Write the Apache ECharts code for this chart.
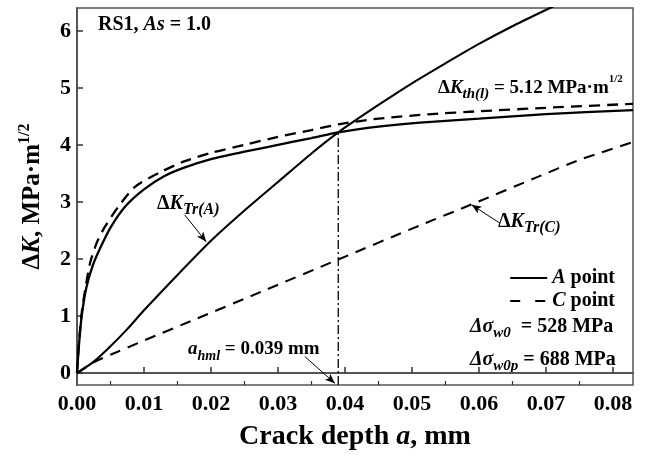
<!DOCTYPE html>
<html>
<head>
<meta charset="utf-8">
<script src="https://cdn.jsdelivr.net/npm/echarts@6/dist/echarts.min.js"></script>
<style>
  html, body { margin: 0; padding: 0; background: #fff; }
  #main { width: 646px; height: 456px; }
</style>
</head>
<body>
<div id="main"></div>
<script>
// crack depth a (mm) and ΔK (MPa·m^1/2)
const aThA = [0, 0.0003, 0.0007, 0.0014, 0.0024, 0.0035, 0.005, 0.0072, 0.01, 0.013, 0.016, 0.02, 0.025, 0.03, 0.035, 0.039, 0.045, 0.0512, 0.06, 0.07, 0.083];
const kThA = [0, 0.5, 1.0, 1.5, 1.9, 2.2, 2.55, 2.92, 3.22, 3.45, 3.6, 3.75, 3.88, 4.0, 4.12, 4.22, 4.32, 4.39, 4.46, 4.54, 4.61];

const aThC = [0, 0.0003, 0.0007, 0.0012, 0.002, 0.003, 0.0042, 0.0062, 0.0087, 0.0126, 0.016, 0.02, 0.025, 0.03, 0.035, 0.039, 0.045, 0.053, 0.06, 0.07, 0.083];
const kThC = [0, 0.55, 1.05, 1.45, 1.95, 2.3, 2.57, 2.92, 3.27, 3.53, 3.71, 3.86, 4.0, 4.14, 4.26, 4.36, 4.46, 4.54, 4.59, 4.65, 4.72];

const aTrA = [0, 0.0025, 0.005, 0.0075, 0.01, 0.015, 0.02, 0.025, 0.03, 0.035, 0.039, 0.045, 0.05, 0.055, 0.06, 0.065, 0.0706, 0.075, 0.083];
const kTrA = [0, 0.2, 0.47, 0.77, 1.1, 1.72, 2.32, 2.85, 3.35, 3.85, 4.22, 4.7, 5.08, 5.43, 5.77, 6.08, 6.4, 6.65, 7.08];

const aTrC = [0, 0.0027, 0.006, 0.01, 0.0176, 0.0278, 0.039, 0.0512, 0.059, 0.0686, 0.0751, 0.083];
const kTrC = [0, 0.2, 0.37, 0.57, 0.94, 1.44, 1.99, 2.59, 2.96, 3.43, 3.74, 4.05];

const aHml = [0.039, 0.039];
const kHml = [-0.21, 4.22];

const xTicks = [0, 0.01, 0.02, 0.03, 0.04, 0.05, 0.06, 0.07, 0.08];
const xMinor = [0.005, 0.015, 0.025, 0.035, 0.045, 0.055, 0.065, 0.075];
const yTicks = [0, 1, 2, 3, 4, 5, 6];

// arrows: [from, to] in data units
const arrows = [
  [[0.0161, 2.77], [0.0193, 2.30]],
  [[0.0631, 2.63], [0.0589, 2.95]],
  [[0.0340, 0.29], [0.0385, -0.18]]
];

const FONT = '"Liberation Serif", "Times New Roman", serif';

function zip(xs, ys) { return xs.map((x, i) => [x, ys[i]]); }

function richSet(size, subSize, supSize) {
  return {
    m: { fontFamily: FONT, fontWeight: 'bold', fontSize: size, lineHeight: 28, color: '#000' },
    mi: { fontFamily: FONT, fontWeight: 'bold', fontStyle: 'italic', fontSize: size, lineHeight: 28, color: '#000' },
    sub: { fontFamily: FONT, fontWeight: 'bold', fontStyle: 'italic', fontSize: subSize, verticalAlign: 'bottom', color: '#000' },
    sup: { fontFamily: FONT, fontWeight: 'bold', fontSize: supSize, verticalAlign: 'top', color: '#000' }
  };
}

function label(left, top, text, r) {
  return {
    type: 'text', left: left, top: top, silent: true,
    style: { text: text, rich: r, fill: '#000' }
  };
}

let myChart = echarts.init(document.getElementById('main'));

myChart.setOption({
  animation: false,
  backgroundColor: '#fff',
  grid: { left: 77, right: 13, top: 8, bottom: 71, show: true, borderColor: '#555', borderWidth: 1.5 },
  legend: {
    data: [
      { name: 'A point' },
      { name: 'C point', lineStyle: { type: [10, 15] } }
    ],
    orient: 'vertical', right: 26, top: 263, itemGap: 3,
    itemWidth: 37, itemHeight: 14,
    itemStyle: { opacity: 0 },
    formatter: function (n) { return n === 'A point' ? '{i|A} point' : '{i|C} point'; },
    textStyle: {
      fontFamily: FONT, fontWeight: 'bold', fontSize: 20, color: '#000',
      rich: { i: { fontFamily: FONT, fontWeight: 'bold', fontStyle: 'italic', fontSize: 20, color: '#000' } }
    }
  },
  xAxis: [{
    type: 'value', min: 0, max: 0.083,
    name: 'Crack depth {i|a}, mm', nameLocation: 'middle', nameGap: 38,
    nameTextStyle: {
      fontFamily: FONT, fontWeight: 'bold', fontSize: 28, color: '#000',
      rich: { i: { fontFamily: FONT, fontWeight: 'bold', fontStyle: 'italic', fontSize: 28, color: '#000' } }
    },
    axisLine: { lineStyle: { color: '#555', width: 2 } },
    axisTick: { inside: true, length: 6, customValues: xTicks, lineStyle: { color: '#333', width: 1.5 } },
    axisLabel: {
      customValues: xTicks, margin: 8,
      fontFamily: FONT, fontWeight: 'bold', fontSize: 22, color: '#000',
      formatter: function (v) { return v.toFixed(2); }
    },
    splitLine: { show: false }
  }, {
    type: 'value', min: 0, max: 0.083, position: 'bottom',
    axisLine: { show: false },
    axisTick: { inside: true, length: 4, customValues: xMinor, lineStyle: { color: '#333', width: 1.2 } },
    axisLabel: { show: false },
    splitLine: { show: false }
  }],
  yAxis: {
    type: 'value', min: -0.21, max: 6.4,
    name: '{m|Δ}{mi|K}{m|, MPa·m}{sup|1/2}', nameLocation: 'middle', nameGap: 28, nameRotate: 90,
    nameTextStyle: {
      rich: {
        m: { fontFamily: FONT, fontWeight: 'bold', fontSize: 25, lineHeight: 32, color: '#000' },
        mi: { fontFamily: FONT, fontWeight: 'bold', fontStyle: 'italic', fontSize: 25, lineHeight: 32, color: '#000' },
        sup: { fontFamily: FONT, fontWeight: 'bold', fontSize: 16, verticalAlign: 'top', color: '#000' }
      }
    },
    axisLine: { lineStyle: { color: '#555', width: 2 } },
    axisTick: { inside: true, length: 6, customValues: yTicks, lineStyle: { color: '#333', width: 1.5 } },
    axisLabel: {
      customValues: yTicks, margin: 6,
      fontFamily: FONT, fontWeight: 'bold', fontSize: 22, color: '#000'
    },
    splitLine: { show: false }
  },
  series: [
    {
      name: 'A point', type: 'line', data: zip(aThA, kThA), symbol: 'none', smooth: 0.25,
      lineStyle: { color: '#000', width: 2.3, type: 'solid' }, itemStyle: { color: '#000' }
    },
    {
      name: 'C point', type: 'line', data: zip(aThC, kThC), symbol: 'none', smooth: 0.25,
      lineStyle: { color: '#000', width: 2.3, type: [11, 7] }, itemStyle: { color: '#000' }
    },
    {
      name: 'TrA', type: 'line', data: zip(aTrA, kTrA), symbol: 'none', smooth: 0.25, clip: true,
      lineStyle: { color: '#000', width: 2.1, type: 'solid' }
    },
    {
      name: 'TrC', type: 'line', data: zip(aTrC, kTrC), symbol: 'none', smooth: 0.25,
      lineStyle: { color: '#000', width: 2.1, type: [11, 8] }
    },
    {
      name: 'hml', type: 'line', data: zip(aHml, kHml), symbol: 'none',
      lineStyle: { color: '#000', width: 1.3, type: [9, 3, 2, 3] },
      markLine: {
        silent: true, symbol: ['none', 'arrow'], symbolSize: [6, 10],
        label: { show: false },
        lineStyle: { color: '#000', width: 1, type: 'solid' },
        data: arrows.map(p => [{ coord: p[0] }, { coord: p[1] }])
      }
    }
  ],
  graphic: [
    label(98, 15, '{m|RS1, }{mi|As}{m| = 1.0}', richSet(20, 15, 13)),
    label(438, 74, '{m|Δ}{mi|K}{sub|th(l)}{m| = 5.12 MPa·m}{sup|1/2}', richSet(19, 15, 11)),
    label(157, 194, '{m|Δ}{mi|K}{sub|Tr(A)}', richSet(20, 16, 13)),
    label(498, 212, '{m|Δ}{mi|K}{sub|Tr(C)}', richSet(20, 16, 13)),
    label(188, 340, '{mi|a}{sub|hml}{m| = 0.039 mm}', richSet(19, 14, 13)),
    label(470, 317, '{mi|Δσ}{sub|w0}{m|  = 528 MPa}', richSet(20, 15, 13)),
    label(470, 350, '{mi|Δσ}{sub|w0p}{m| = 688 MPa}', richSet(20, 15, 13))
  ]
});
</script>
</body>
</html>
